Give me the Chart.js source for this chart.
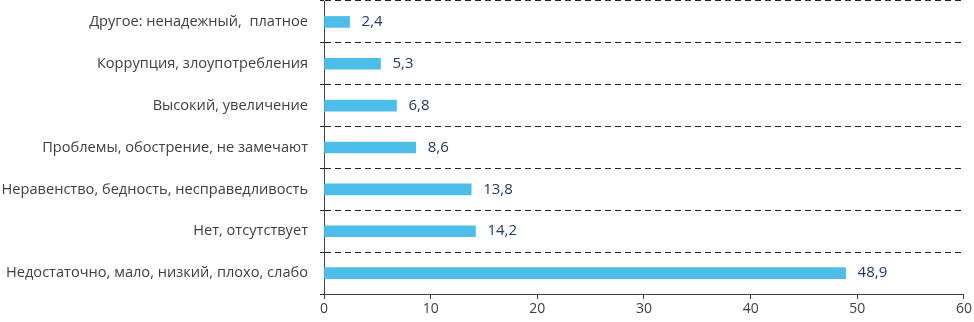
<!DOCTYPE html>
<html>
<head>
<meta charset="utf-8">
<script src="https://cdn.jsdelivr.net/npm/chart.js@4"></script>
<style>
    html, body { margin: 0; padding: 0; background: #fff; }
    #wrap { width: 974px; height: 322px; }
</style>
</head>
<body>
<div id="wrap"><canvas id="barChart" width="974" height="322"></canvas></div>
<script>
// категории (сверху вниз) и значения, %
const categories = [
    'Другое: ненадежный,  платное',
    'Коррупция, злоупотребления',
    'Высокий, увеличение',
    'Проблемы, обострение, не замечают',
    'Неравенство, бедность, несправедливость',
    'Нет, отсутствует',
    'Недостаточно, мало, низкий, плохо, слабо'
];
const values = [2.4, 5.3, 6.8, 8.6, 13.8, 14.2, 48.9];
const xTicks = [0, 10, 20, 30, 40, 50, 60];

// подписи значений справа от столбцов
const valueLabels = {
    id: 'valueLabels',
    afterDatasetsDraw(chart) {
        const ctx = chart.ctx;
        const meta = chart.getDatasetMeta(0);
        ctx.save();
        ctx.font = '15px "Open Sans"';
        ctx.fillStyle = '#1f3864';
        ctx.textAlign = 'left';
        ctx.textBaseline = 'middle';
        meta.data.forEach((bar, i) => {
            ctx.fillText(values[i].toFixed(1).replace('.', ','), bar.x + 12, bar.y);
        });
        ctx.restore();
    }
};

const barCtx = document.getElementById('barChart').getContext('2d');
new Chart(barCtx, {
    type: 'bar',
    data: {
        labels: categories,
        datasets: [{
            data: values,
            backgroundColor: '#4cbee9',
            barThickness: 11,
        }]
    },
    options: {
        indexAxis: 'y',
        responsive: false,
        animation: false,
        layout: { padding: { top: 1, right: 10, left: 0, bottom: 0 } },
        plugins: {
            legend: { display: false },
            tooltip: { enabled: false },
        },
        scales: {
            x: {
                min: 0,
                max: 60,
                afterBuildTicks: (scale) => { scale.ticks = xTicks.map(v => ({ value: v })); },
                afterFit: (scale) => { scale.height = 28; },
                grid: {
                    drawOnChartArea: false,
                    drawTicks: true,
                    tickLength: 5,
                    color: '#404040',
                },
                border: { display: true, color: '#404040', width: 1 },
                ticks: {
                    padding: 2,
                    color: '#404040',
                    font: { family: 'Open Sans', size: 14 },
                    maxRotation: 0,
                },
            },
            y: {
                afterFit: (scale) => {
                    scale.width = 324;
                    scale.paddingTop = 0;
                    scale.paddingBottom = 0;
                },
                grid: {
                    offset: true,
                    color: '#222',
                    lineWidth: 1,
                    tickLength: 4,
                },
                border: { display: true, color: '#404040', width: 1, dash: [6, 4] },
                ticks: {
                    padding: 12,
                    color: '#404040',
                    font: { family: 'Open Sans', size: 14.6 },
                },
            },
        },
    },
    plugins: [valueLabels],
});
</script>
</body>
</html>
